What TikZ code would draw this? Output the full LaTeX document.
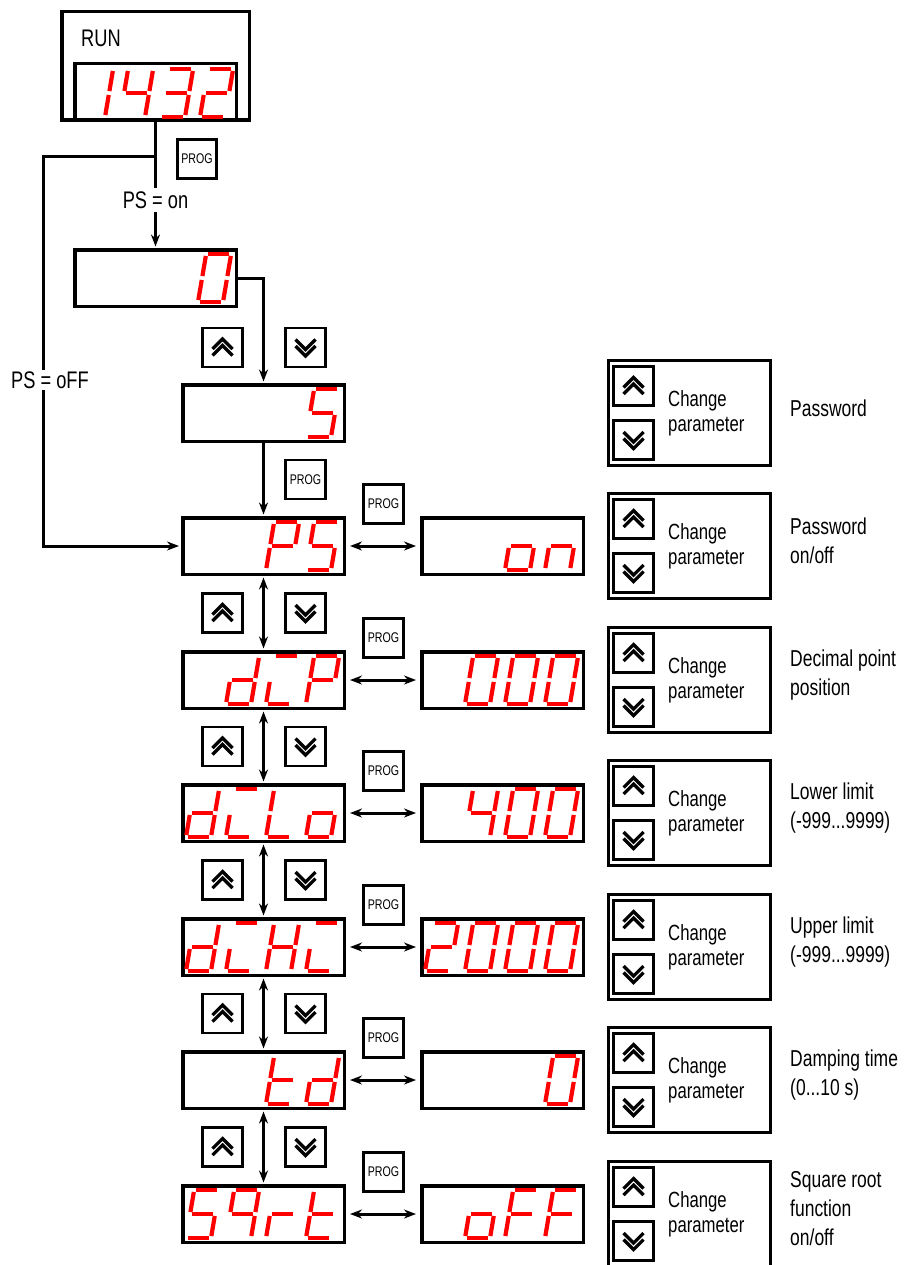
\documentclass[tikz,border=0pt]{standalone}
\usepackage{fontspec}
\setmainfont{Liberation Sans}[FakeStretch=0.76]
\usepackage{xcolor}
\usepackage{tikz}
\usetikzlibrary{arrows.meta}
\definecolor{ledred}{RGB}{255,0,0}

% seven segment glyphs, each segment as a pair of cell corners
\def\ledzero{TL/TR,TR/MR,MR/BR,BL/BR,ML/BL,TL/ML}
\def\ledone{TR/MR,MR/BR}
\def\ledtwo{TL/TR,TR/MR,ML/MR,ML/BL,BL/BR}
\def\ledthree{TL/TR,TR/MR,ML/MR,MR/BR,BL/BR}
\def\ledfour{TL/ML,ML/MR,TR/MR,MR/BR}
\def\ledfive{TL/TR,TL/ML,ML/MR,MR/BR,BL/BR}
\def\ledP{TL/TR,TR/MR,TL/ML,ML/MR,ML/BL}
\def\ledo{ML/MR,MR/BR,BL/BR,ML/BL}
\def\ledn{ML/MR,MR/BR,ML/BL}
\def\ledd{TR/MR,MR/BR,BL/BR,ML/BL,ML/MR}
\def\ledC{TL/TR,ML/BL,BL/BR}
\def\ledL{TL/ML,ML/BL,BL/BR}
\def\ledH{TL/ML,ML/BL,TR/MR,MR/BR,ML/MR}
\def\ledt{TL/ML,ML/BL,ML/MR,BL/BR}
\def\ledq{TL/TR,TL/ML,TR/MR,ML/MR,MR/BR}
\def\ledr{ML/MR,ML/BL}
\def\ledF{TL/TR,TL/ML,ML/MR,ML/BL}

\newcommand\ledchar[3]{%
  \begin{scope}[shift={(#1,#2)}, xslant=0.17]
    \coordinate (TL) at (0,-48); \coordinate (TR) at (25,-48);
    \coordinate (ML) at (0,-24); \coordinate (MR) at (25,-24);
    \coordinate (BL) at (0,0);   \coordinate (BR) at (25,0);
    \edef\seglist{\csname led#3\endcsname}%
    \foreach \p/\q in \seglist {\draw[ledseg] (\p) -- (\q);}
  \end{scope}}
\newcommand\ledtext[3]{%
  \foreach \gl [count=\k from 0] in {#3} {\ledchar{#1+40*\k}{#2}{\gl}}}

\begin{document}
\begin{tikzpicture}[x=1pt, y=-1pt, >={Stealth[length=12pt,width=9pt]},
    disp/.style={draw, line width=3.5pt, minimum width=161.5pt, minimum height=56.5pt, inner sep=0pt},
    panel/.style={draw, line width=3pt, minimum width=162pt, minimum height=105pt, inner sep=0pt},
    btn/.style={draw, line width=2.6pt, minimum width=39.5pt, minimum height=39pt, inner sep=0pt},
    prog/.style={btn, font=\fontsize{14}{14}\selectfont},
    chev/.style={line width=3.2pt},
    upbtn/.style={btn, path picture={
      \foreach \a in {-8.5,-2}
        \draw[chev] ([shift={(-10,\a+10)}]path picture bounding box.center)
          -- ([shift={(0,\a)}]path picture bounding box.center)
          -- ([shift={(10,\a+10)}]path picture bounding box.center);}},
    dnbtn/.style={btn, path picture={
      \foreach \a in {8.5,2}
        \draw[chev] ([shift={(-10,\a-10)}]path picture bounding box.center)
          -- ([shift={(0,\a)}]path picture bounding box.center)
          -- ([shift={(10,\a-10)}]path picture bounding box.center);}},
    conn/.style={line width=3pt},
    ledseg/.style={draw=ledred, line width=4.2pt, shorten <=2pt, shorten >=2pt},
    lbl/.style={font=\fontsize{24}{28}\selectfont},
    chg/.style={font=\fontsize{22}{25}\selectfont, align=left, anchor=west, inner sep=0pt},
    desc/.style={font=\fontsize{23}{29}\selectfont, align=left, anchor=west, inner sep=0pt}]
  \path[use as bounding box, fill=white] (0,0) rectangle (905,1265);

  % run display and password entry
  \node[draw, line width=3.5pt, minimum width=187.5pt, minimum height=108.5pt] (runbox) at (155.5,66) {};
  \node[disp] (rundisp) at (155.5,92) {};
  \node[lbl, anchor=west, inner sep=0pt] (run) at (81,38) {RUN};
  \node[prog] (prog0) at (197,159) {PROG};
  \node[lbl] (pson) at (155.5,200) {PS = on};
  \node[disp] (zero) at (155.5,278) {};
  \node[upbtn] (up0) at (222.5,347.5) {};
  \node[dnbtn] (dn0) at (305.5,347.5) {};
  \node[disp] (five) at (263.5,413) {};
  \node[prog] (progf) at (305.5,479.5) {PROG};

  % parameter rows
  \foreach \i/\yy in {1/546,2/680,3/813,4/947,5/1080,6/1214} {
    \node[disp] (d\i) at (263.5,\yy) {};
    \node[disp] (v\i) at (502.5,\yy) {};
    \node[prog] (p\i) at (383.5,\yy-42) {PROG};
    \draw[conn, <->, shorten <=4pt, shorten >=4pt] (d\i) -- (v\i);
  }
  \foreach \i/\j/\m in {1/2/613,2/3/746.5,3/4/880,4/5/1013.5,5/6/1147} {
    \node[upbtn] (up\i) at (222.5,\m) {};
    \node[dnbtn] (dn\i) at (305.5,\m) {};
    \draw[conn, <->, shorten <=1.5pt, shorten >=1.5pt] (d\i) -- (d\j);
  }

  \coordinate (jn) at (155.5,157);
  \coordinate (lc) at (43,546);
  \draw[conn] (rundisp.south) -- (pson.north);
  \draw[conn, ->, shorten >=1.5pt] (pson.south) -- (zero.north);
  \draw[conn, ->, shorten >=1.5pt] (zero.east) -| (five.north);
  \draw[conn, ->, shorten >=1.5pt] (five.south) -- (d1.north);
  \draw[conn, ->, shorten >=2pt] (jn) -| (lc) -- (d1.west);
  \node[lbl, fill=white, inner sep=2pt] (psoff) at (50,380) {PS = oFF};

  % display readings
  \ledtext{80}{117}{one,four,three,two}
  \ledtext{198}{302}{zero}
  \ledtext{306}{437}{five}
  \ledtext{266}{570}{P,five}   \ledtext{505}{570}{o,n}
  \ledtext{226}{704}{d,C,P}    \ledtext{465}{704}{zero,zero,zero}
  \ledtext{186}{837}{d,C,L,o}  \ledtext{465}{837}{four,zero,zero}
  \ledtext{186}{971}{d,C,H,C}  \ledtext{425}{971}{two,zero,zero,zero}
  \ledtext{266}{1104}{t,d}     \ledtext{545}{1104}{zero}
  \ledtext{186}{1238}{five,q,r,t} \ledtext{465}{1238}{o,F,F}

  % key panels
  \foreach \j/\yy/\txt in {1/413/{Password}, 2/546/{Password\\on/off},
      3/680/{Decimal point\\position}, 4/813/{Lower limit\\(-999...9999)},
      5/947/{Upper limit\\(-999...9999)}, 6/1080/{Damping time\\(0...10 s)},
      7/1214/{Square root\\function\\on/off}} {
    \node[panel] (pan\j) at (689.5,\yy) {};
    \node[upbtn] (pup\j) at (633.5,\yy-27) {};
    \node[dnbtn] (pdn\j) at (633.5,\yy+27) {};
    \node[chg] (chg\j) at (668,\yy) {Change\\parameter};
    \node[desc] (desc\j) at (790,\yy-5) {\txt};
  }
\end{tikzpicture}
\end{document}
